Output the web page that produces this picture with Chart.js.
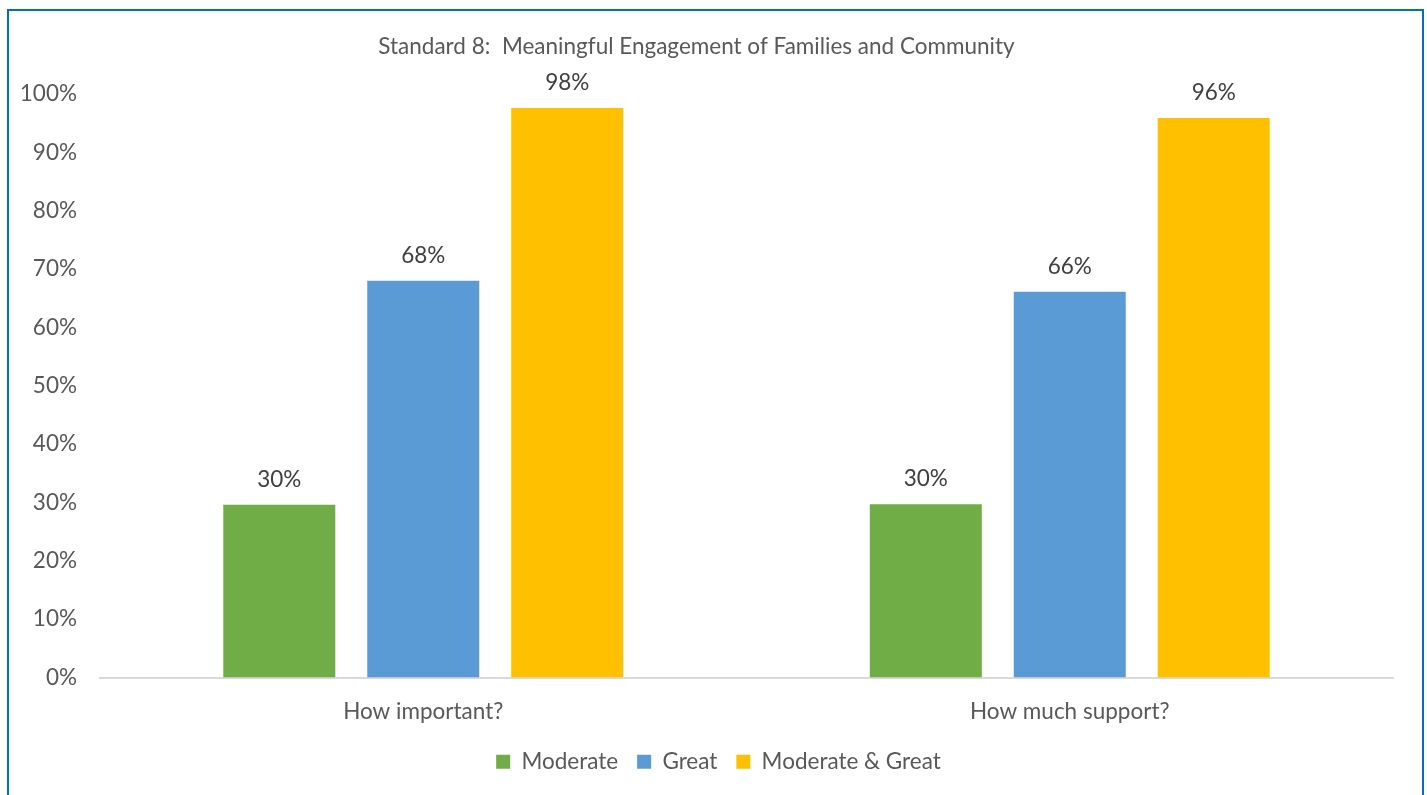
<!DOCTYPE html>
<html>
<head>
<meta charset="utf-8">
<script src="https://cdn.jsdelivr.net/npm/chart.js@4"></script>
<style>
    body { margin: 0; background: #fff; }
    #wrap { position: relative; width: 1427px; height: 795px; }
    #frame {
        position: absolute; left: 7px; top: 9px; width: 1413px; height: 800px;
        border: 2px solid #0070C0; pointer-events: none;
    }
</style>
</head>
<body>
<div id="wrap">
    <canvas id="chart" width="1427" height="795"></canvas>
    <div id="frame"></div>
</div>
<script>
// Chart data
const categories = ['How important?', 'How much support?'];
const seriesNames = ['Moderate', 'Great', 'Moderate & Great'];
const moderateValues = [29.6, 29.7];
const greatValues = [68.0, 66.1];
const bothValues = [97.6, 95.9];
const seriesColors = ['#70AD47', '#5B9BD5', '#FFC000'];

const fontFamily = 'Lato, Carlito, "Open Sans", sans-serif';
const fontSize = 22.5;

// Draw the value labels above each bar, and nudge the legend to the page centre
const valueLabels = {
    id: 'valueLabels',
    afterLayout(chart) {
        chart.legend.left += 22;
        chart.legend.right += 22;
    },
    afterDatasetsDraw(chart) {
        const ctx = chart.ctx;
        ctx.save();
        ctx.font = fontSize + 'px ' + fontFamily;
        ctx.fillStyle = '#404040';
        ctx.textAlign = 'center';
        ctx.textBaseline = 'bottom';
        chart.data.datasets.forEach((ds, i) => {
            chart.getDatasetMeta(i).data.forEach((bar, j) => {
                ctx.fillText(Math.round(ds.data[j]) + '%', bar.x, bar.y - 14);
            });
        });
        ctx.restore();
    }
};

const ctx = document.getElementById('chart').getContext('2d');
new Chart(ctx, {
    type: 'bar',
    data: {
        labels: categories,
        datasets: [
            { label: seriesNames[0], data: moderateValues, backgroundColor: seriesColors[0] },
            { label: seriesNames[1], data: greatValues, backgroundColor: seriesColors[1] },
            { label: seriesNames[2], data: bothValues, backgroundColor: seriesColors[2] }
        ]
    },
    options: {
        responsive: false,
        animation: false,
        categoryPercentage: 0.668,
        barPercentage: 0.778,
        layout: { padding: { left: 0, right: 34, top: 0, bottom: 12 } },
        scales: {
            x: {
                afterFit(scale) { scale.height = scale.height - 7; },
                grid: { display: false },
                border: { color: '#D9D9D9', width: 2 },
                ticks: { color: '#595959', font: { family: fontFamily, size: fontSize }, padding: 13 }
            },
            y: {
                min: 0,
                max: 100,
                afterFit(scale) { scale.width = 100; },
                grid: { display: false },
                border: { display: false },
                ticks: {
                    stepSize: 10,
                    color: '#595959',
                    padding: 15,
                    font: { family: fontFamily, size: fontSize },
                    callback: v => v + '%'
                }
            }
        },
        plugins: {
            title: {
                display: true,
                text: 'Standard 8:  Meaningful Engagement of Families and Community',
                color: '#595959',
                font: { family: fontFamily, size: fontSize, weight: 'normal' },
                padding: { top: 33, bottom: 34 }
            },
            legend: {
                position: 'bottom',
                labels: {
                    color: '#595959',
                    font: { family: fontFamily, size: fontSize },
                    boxWidth: 14,
                    boxHeight: 14,
                    padding: 19
                }
            },
            tooltip: { enabled: false }
        }
    },
    plugins: [valueLabels]
});
</script>
</body>
</html>
